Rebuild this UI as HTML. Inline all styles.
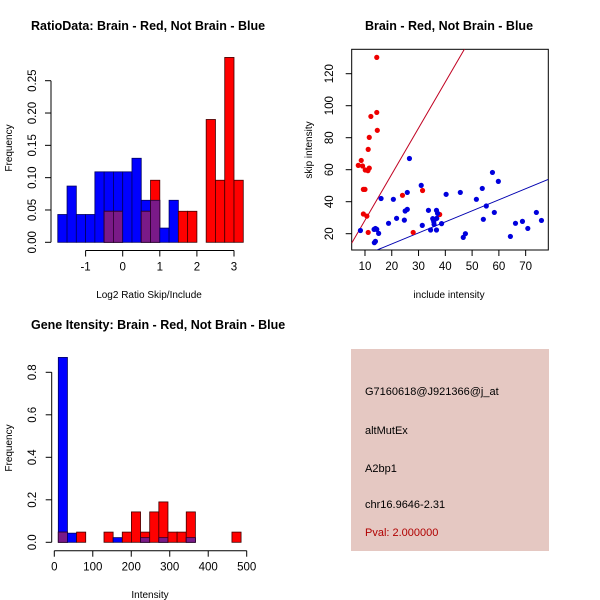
<!DOCTYPE html>
<html><head><meta charset="utf-8">
<style>
html,body{margin:0;padding:0;background:#fff;}
svg{display:block;font-family:"Liberation Sans",sans-serif;}
</style></head>
<body>
<svg id="c" width="600" height="600" viewBox="0 0 600 600">
<rect x="351" y="349" width="198" height="202" fill="#e5c8c2"/>
<g font-size="11">
<text x="365" y="395">G7160618@J921366@j_at</text>
<text x="365" y="434">altMutEx</text>
<text x="365" y="472">A2bp1</text>
<text x="365" y="508">chr16.9646-2.31</text>
<text x="365" y="536" fill="#b00000">Pval: 2.000000</text>
</g>
</svg>
<script>
// Ratio histogram data (bins from -1.75 step 0.25)
const ratioBinStart = -1.75, ratioBinWidth = 0.25;
const ratioBlue = [0.043,0.087,0.043,0.043,0.109,0.109,0.109,0.109,0.13,0.065,0.065,0.022,0.065,0,0,0,0,0,0,0];
const ratioRed  = [0,0,0,0,0,0.048,0.048,0,0,0.048,0.096,0,0,0.048,0.048,0,0.19,0.096,0.286,0.096];
const ratioYTicks = ["0.00","0.05","0.10","0.15","0.20","0.25"];
const ratioXTicks = [-1,0,1,2,3];
// Scatter data
const redInc  = [14.4,14.4,12.2,14.6,11.6,11.2,7.5,8.6,9.1,10.1,11.1,11.6,9.4,10,9.4,10.7,11.2,24,31.5,37.9,28];
const redSkip = [130.2,95.8,93.3,84.6,80.2,72.7,62.7,65.8,62.3,59.8,59.4,61,47.7,47.7,32.3,31,20.8,44,47,32,20.8];
const blueInc  = [8.3,16,20.6,18.8,21.8,24.7,25,25.8,25.8,26.6,31,31.4,33.7,34.5,35.3,35.7,35.8,36.7,36.8,36.7,37.1,38.6,40.3,45.6,46.7,47.5,51.6,53.8,54.2,55.3,57.6,58.3,59.8,64.3,66.2,68.8,70.8,74,75.9,13.4,14.4,15.1,13.9,13.5,13.9,35.5];
const blueSkip = [22,42,41.5,26.5,29.6,28.5,34.2,35.2,45.8,67,50.2,25.2,34.6,22.3,29.4,27.5,25.8,34.6,29.6,22.3,32.7,26.3,44.6,45.8,17.7,20,41.5,48.3,29,37.3,58.3,33.3,52.7,18.3,26.5,27.7,23.3,33.3,28.3,22.7,22.7,20.2,15.2,14.4,23.3,28.8];
const redLine = [2.88,-0.4];   // slope, intercept
const blueLine = [0.69,-0.2];
const scatXTicks = [10,20,30,40,50,60,70];
const scatYTicks = [20,40,60,80,100,120];
// Intensity histogram
const intBinStart = 10.4, intBinWidth = 23.75;
const intBlue = [0.87,0.043,0,0,0,0,0.022,0,0,0.022,0,0.022,0,0,0.022,0,0,0,0,0];
const intRed  = [0.048,0,0.048,0,0,0.048,0,0.048,0.143,0.048,0.143,0.19,0.048,0.048,0.143,0,0,0,0,0.048];
const intYTicks = ["0.0","0.2","0.4","0.6","0.8"];
const intXTicks = [0,100,200,300,400,500];

const svg = document.getElementById('c');
const NS = 'http://www.w3.org/2000/svg';
function mk(tag, attrs, parent){const e=document.createElementNS(NS,tag);for(const k in attrs)e.setAttribute(k,attrs[k]);(parent||svg).appendChild(e);return e;}
function txt(x,y,s,opts,parent){const e=mk('text',Object.assign({x:x,y:y},opts||{}),parent);e.textContent=s;return e;}

function histogram(name, blue, red, start, width, sx, sy){
  const g=mk('g',{});
  
  
  for(let i=0;i<blue.length;i++){
    const x0=sx(start+i*width), x1=sx(start+(i+1)*width);
    const b=blue[i], r=red[i], m=Math.min(b,r);
    if(b>0){const e=mk('rect',{x:x0,y:sy(b),width:x1-x0,height:sy(0)-sy(b),fill:'#0000ff',stroke:'#000060','stroke-width':0.8},g);
      
      }
    if(r>0){const e=mk('rect',{x:x0,y:sy(r),width:x1-x0,height:sy(0)-sy(r),fill:'#ff0000',stroke:'#400000','stroke-width':0.8},g);
      
      }
    if(m>0){const e=mk('rect',{x:x0,y:sy(m),width:x1-x0,height:sy(0)-sy(m),fill:'#7a1a88',stroke:'#2a0030','stroke-width':0.8},g);
      
      }
  }
}
function yAxis(name,x,ticks,vals,sy,labelX){
  const g=mk('g',{});
  
  
  mk('line',{x1:x,x2:x,y1:sy(vals[0]),y2:sy(vals[vals.length-1]),stroke:'#000'},g);
  vals.forEach((v,i)=>{mk('line',{x1:x-6,x2:x,y1:sy(v),y2:sy(v),stroke:'#000'},g);
    txt(labelX,sy(v),String(ticks[i]),{'font-size':11.5,'text-anchor':'middle',transform:`rotate(-90 ${labelX} ${sy(v)})`},g);});
}
function xAxis(name,y,ticks,sx){
  const g=mk('g',{});
  
  
  mk('line',{x1:sx(ticks[0]),x2:sx(ticks[ticks.length-1]),y1:y,y2:y,stroke:'#000'},g);
  ticks.forEach(v=>{mk('line',{x1:sx(v),x2:sx(v),y1:y,y2:y+6,stroke:'#000'},g);
    txt(sx(v),y+20,String(v),{'font-size':11.5,'text-anchor':'middle'},g);});
}
function title(x,y,s,name,anchor){const e=txt(x,y,s,{'font-size':12.5,'font-weight':'bold','text-anchor':anchor||'middle'});
  
  }
function label(x,y,s,name,rot){const e=txt(x,y,s,{'font-size':10,'text-anchor':'middle'});
  if(rot)e.setAttribute('transform',`rotate(-90 ${x} ${y})`);
  
  }

// Panel 1
{
  const sx=v=>122.7+v*37.1, sy=v=>242.3-v*646.4;
  histogram('ratio-hist',ratioBlue,ratioRed,ratioBinStart,ratioBinWidth,sx,sy);
  yAxis('ratio-y-axis',51,ratioYTicks,ratioYTicks.map(Number),sy,36);
  xAxis('ratio-x-axis',250.5,ratioXTicks,sx);
  title(31,30,'RatioData: Brain - Red, Not Brain - Blue','ratio-title','start');
  label(149,298,'Log2 Ratio Skip/Include','ratio-x-title');
  label(12,148,'Frequency','ratio-y-title',true);
}
// Panel 2
{
  const sx=v=>338.2+v*2.678, sy=v=>265.7-v*1.6;
  const g=mk('g',{});
  
  
  const box=mk('rect',{x:351.7,y:49.3,width:196.6,height:200.7,fill:'none',stroke:'#000'},g);
  
  
  const cp=mk('clipPath',{id:'cp'},g);
  mk('rect',{x:351.7,y:49.3,width:196.6,height:200.7},cp);
  const xmin=5.04,xmax=78.4;
  const l1=mk('line',{x1:sx(xmin),y1:sy(redLine[0]*xmin+redLine[1]),x2:sx(xmax),y2:sy(redLine[0]*xmax+redLine[1]),stroke:'#c00020','clip-path':'url(#cp)'},g);
  
  
  const l2=mk('line',{x1:sx(xmin),y1:sy(blueLine[0]*xmin+blueLine[1]),x2:sx(xmax),y2:sy(blueLine[0]*xmax+blueLine[1]),stroke:'#0000b0','clip-path':'url(#cp)'},g);
  
  
  redInc.forEach((v,i)=>{const c=mk('circle',{cx:sx(v),cy:sy(redSkip[i]),r:2.6,fill:'#ee0000'},g);
    
    });
  blueInc.forEach((v,i)=>{const c=mk('circle',{cx:sx(v),cy:sy(blueSkip[i]),r:2.6,fill:'#0000dd'},g);
    
    });
  const ga=mk('g',{});
  
  
  scatXTicks.forEach(v=>{mk('line',{x1:sx(v),x2:sx(v),y1:250,y2:256,stroke:'#000'},ga);txt(sx(v),270,String(v),{'font-size':11.5,'text-anchor':'middle'},ga);});
  scatYTicks.forEach(v=>{mk('line',{x1:345.7,x2:351.7,y1:sy(v),y2:sy(v),stroke:'#000'},ga);txt(333,sy(v),String(v),{'font-size':11.5,'text-anchor':'middle',transform:`rotate(-90 333 ${sy(v)})`},ga);});
  title(449,30,'Brain - Red, Not Brain - Blue','scatter-title');
  label(449,298,'include intensity','scatter-x-title');
  label(312,150,'skip intensity','scatter-y-title',true);
}
// Panel 3
{
  const sx=v=>54.3+v*0.3848, sy=v=>542.3-v*212.5;
  histogram('intensity-hist',intBlue,intRed,intBinStart,intBinWidth,sx,sy);
  yAxis('intensity-y-axis',51.7,intYTicks,intYTicks.map(Number),sy,36);
  xAxis('intensity-x-axis',550.7,intXTicks,sx);
  title(31,329,'Gene Itensity: Brain - Red, Not Brain - Blue','intensity-title','start');
  label(150,598,'Intensity','intensity-x-title');
  label(12,448,'Frequency','intensity-y-title',true);
}
</script>
</body></html>
